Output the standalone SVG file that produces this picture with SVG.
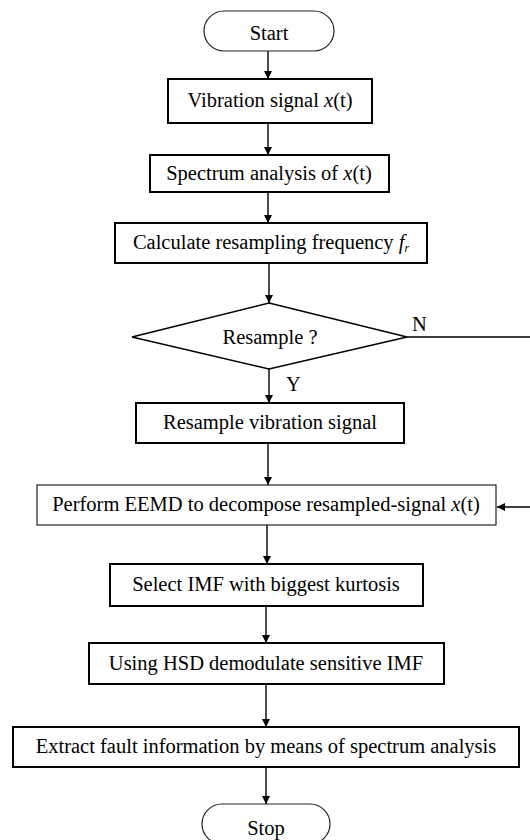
<svg xmlns="http://www.w3.org/2000/svg" width="530" height="840" viewBox="0 0 530 840">
<defs>
<marker id="ah" viewBox="0 0 10 10" refX="10" refY="5" markerWidth="8" markerHeight="8" markerUnits="userSpaceOnUse" orient="auto">
<path d="M0,0 L10,5 L0,10 z" fill="#000"/>
</marker>
<style>
.box{fill:#fff;stroke:#000;stroke-width:2}
.thin{fill:#fff;stroke:#222;stroke-width:1.2}
text{font-family:'Liberation Serif','DejaVu Serif',serif;font-size:20.5px;fill:#000}
.t{text-anchor:middle}
.c{fill:none;stroke:#000;stroke-width:1.4;marker-end:url(#ah)}
</style>
</defs>
<rect width="530" height="840" fill="#fff"/>
<g id="connectors">
<line class="c" x1="268" y1="51" x2="268" y2="79"/>
<line class="c" x1="268" y1="123" x2="268" y2="155"/>
<line class="c" x1="268" y1="192" x2="268" y2="223"/>
<line class="c" x1="269" y1="263" x2="269" y2="303"/>
<line class="c" x1="269" y1="369" x2="269" y2="403"/>
<line class="c" x1="268" y1="443" x2="268" y2="485"/>
<line class="c" x1="267" y1="525" x2="267" y2="564"/>
<line class="c" x1="266" y1="606" x2="266" y2="643"/>
<line class="c" x1="266" y1="684" x2="266" y2="727"/>
<line class="c" x1="266" y1="767" x2="266" y2="804"/>
<polyline class="c" points="407,337 534,337 534,507 497,507"/>
<text x="412" y="331">N</text>
<text x="286" y="391">Y</text>
</g>
<g id="start"><rect class="thin" x="204" y="11" width="130" height="40" rx="20"/><text class="t" x="269" y="40">Start</text></g>
<g id="vib"><rect class="box" x="168" y="79" width="204" height="44"/><text class="t" x="270" y="107">Vibration signal <tspan font-style="italic">x</tspan>(t)</text></g>
<g id="spec"><rect class="box" x="150" y="155" width="239" height="37"/><text class="t" x="269" y="180">Spectrum analysis of <tspan font-style="italic">x</tspan>(t)</text></g>
<g id="calc"><rect class="box" x="115" y="223" width="312" height="40"/><text class="t" x="271" y="249">Calculate resampling frequency <tspan font-style="italic">f</tspan><tspan font-style="italic" font-size="12" dy="3">r</tspan></text></g>
<g id="decision"><polygon fill="#fff" stroke="#000" stroke-width="1.4" points="269,303 407,337 269,369 132,337"/><text class="t" x="270" y="344">Resample ?</text></g>
<g id="resample"><rect class="box" x="136" y="403" width="268" height="40"/><text class="t" x="270" y="429">Resample vibration signal</text></g>
<g id="eemd"><rect class="thin" x="37" y="485" width="459" height="40"/><text class="t" x="266" y="511">Perform EEMD to decompose resampled-signal <tspan font-style="italic">x</tspan>(t)</text></g>
<g id="select"><rect class="box" x="110" y="564" width="313" height="42"/><text class="t" x="266" y="591">Select IMF with biggest kurtosis</text></g>
<g id="hsd"><rect class="box" x="89" y="643" width="355" height="41"/><text class="t" x="266" y="670">Using HSD demodulate sensitive IMF</text></g>
<g id="extract"><rect class="box" x="13" y="727" width="506" height="40"/><text class="t" x="266" y="753">Extract fault information by means of spectrum analysis</text></g>
<g id="stop"><rect class="thin" x="202" y="804" width="128" height="40" rx="20"/><text class="t" x="266" y="835">Stop</text></g>
</svg>
